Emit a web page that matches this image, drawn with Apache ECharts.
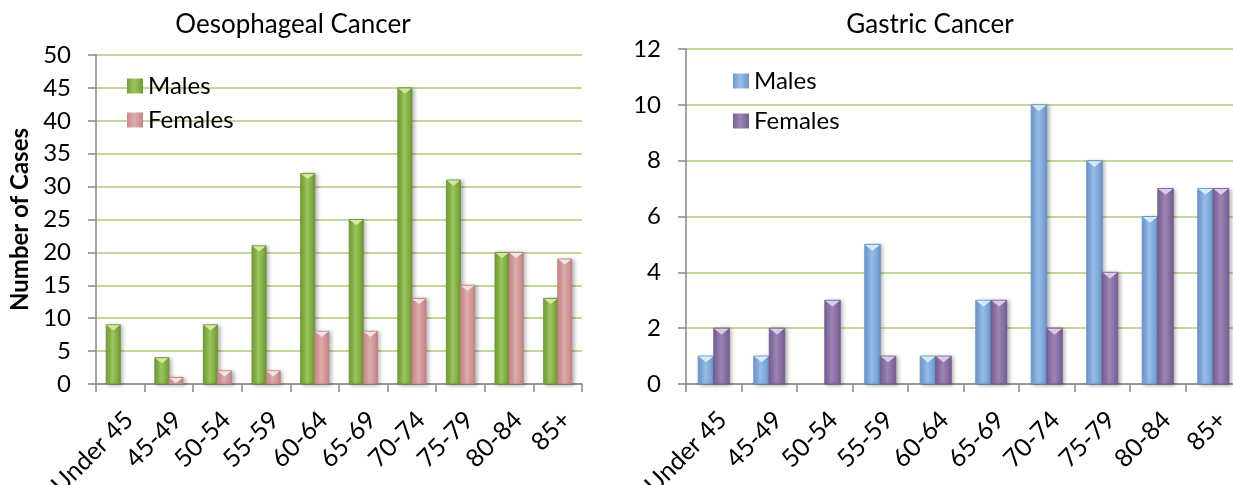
<!DOCTYPE html>
<html>

<head>
    <meta charset="utf-8">
    <script type="text/javascript" src="https://cdn.jsdelivr.net/npm/echarts@6/dist/echarts.min.js"></script>
    <title>Oesophageal and Gastric Cancer</title>
    <style>
        body { margin: 0; background: #fff; }
        .box { position: absolute; top: 0; height: 485px; }
    </style>
</head>

<body>
    <div id="left" class="box" style="left:0;width:616px;"></div>
    <div id="right" class="box" style="left:616px;width:617px;"></div>
    <script type="text/javascript">
    // age groups shared by both charts
    var ageGroups = ['Under 45', '45-49', '50-54', '55-59', '60-64', '65-69', '70-74', '75-79', '80-84', '85+'];

    // oesophageal cancer cases
    var oesMales = [9, 4, 9, 21, 32, 25, 45, 31, 20, 13];
    var oesFemales = [0, 1, 2, 2, 8, 8, 13, 15, 20, 19];

    // gastric cancer cases
    var gasMales = [1, 1, 0, 5, 1, 3, 10, 8, 6, 7];
    var gasFemales = [2, 2, 3, 1, 1, 3, 2, 4, 7, 7];

    var font = 'Lato';

    // horizontal gradient, darker edges and lighter middle like the 3D bars
    function barColor(c) {
        return new echarts.graphic.LinearGradient(0, 0, 1, 0, [
            { offset: 0, color: c.edge },
            { offset: 0.45, color: c.mid },
            { offset: 1, color: c.edge2 }
        ]);
    }

    // bar drawn by hand so it can get the light bevel triangle on top
    function bevelBar(c, gap, slot) {
        return function (params, api) {
            var value = api.value(1);
            if (!value) {
                return null;
            }
            var top = api.coord([api.value(0), value]);
            var base = api.coord([api.value(0), 0]);
            var band = api.size([1, 0])[0];
            var w = band * (1 - gap) / 2;
            var x = top[0] - w + slot * w;
            var h = base[1] - top[1];
            return {
                type: 'group',
                children: [{
                    type: 'rect',
                    shape: { x: x, y: top[1], width: w, height: h },
                    style: {
                        fill: barColor(c),
                        stroke: c.line,
                        lineWidth: 0.8,
                        shadowColor: 'rgba(0,0,0,0.3)',
                        shadowBlur: 4,
                        shadowOffsetX: 2,
                        shadowOffsetY: 1
                    }
                }, {
                    type: 'polygon',
                    shape: {
                        points: [[x + 0.5, top[1] + 0.5], [x + w - 0.5, top[1] + 0.5], [x + w / 2, top[1] + Math.min(w * 0.4, h)]]
                    },
                    style: { fill: c.top }
                }]
            };
        };
    }

    function makeSeries(name, data, c, gap, slot) {
        return {
            name: name,
            type: 'custom',
            renderItem: bevelBar(c, gap, slot),
            data: data.map(function (v, i) { return [i, v]; }),
            encode: { x: 0, y: 1 },
            itemStyle: { color: barColor(c) }
        };
    }

    var green = { edge: '#739e37', mid: '#9dc65e', edge2: '#6f9934', top: '#d3e8a0', line: '#6a9232' };
    var pink = { edge: '#c98c8b', mid: '#dfadac', edge2: '#c48685', top: '#f6e2e2', line: '#b98180' };
    var blue = { edge: '#6e9acf', mid: '#97bde8', edge2: '#6b96cb', top: '#d4ecfa', line: '#6590c4' };
    var purple = { edge: '#7a6198', mid: '#9c85b6', edge2: '#765d94', top: '#ddc9ec', line: '#6f588c' };

    function makeOption(cfg) {
        return {
            animation: false,
            textStyle: { fontFamily: font },
            title: {
                text: cfg.title,
                left: cfg.titleX,
                textAlign: 'center',
                top: 12,
                padding: 0,
                textStyle: { fontFamily: font, fontSize: 26, fontWeight: 'normal', color: '#000' }
            },
            legend: {
                orient: 'vertical',
                left: cfg.legendX,
                top: cfg.legendY,
                padding: 0,
                itemGap: cfg.legendGap,
                itemWidth: 16,
                itemHeight: 15,
                icon: 'rect',
                textStyle: { fontFamily: font, fontSize: 24, lineHeight: 23, color: '#000' },
                data: ['Males', 'Females']
            },
            grid: cfg.grid,
            xAxis: {
                type: 'category',
                data: ageGroups,
                axisLine: { lineStyle: { color: '#868686', width: 1.5 } },
                axisTick: { show: true, length: 8, lineStyle: { color: '#868686', width: 1.5 } },
                axisLabel: {
                    rotate: 45,
                    interval: 0,
                    margin: 23,
                    verticalAlign: 'top',
                    fontFamily: font,
                    fontSize: 25,
                    color: '#000'
                }
            },
            yAxis: {
                type: 'value',
                min: 0,
                max: cfg.max,
                interval: cfg.interval,
                name: cfg.yName,
                nameLocation: 'middle',
                nameGap: 60,
                nameTextStyle: { fontFamily: font, fontSize: 24, fontWeight: 'bold', color: '#000' },
                axisLine: { show: true, lineStyle: { color: '#868686', width: 1.5 } },
                axisTick: { show: true, length: 8, lineStyle: { color: '#868686', width: 1.5 } },
                axisLabel: { margin: 25, fontFamily: font, fontSize: 24, color: '#000' },
                splitLine: { lineStyle: { color: '#c4d79b', width: 2 } }
            },
            series: cfg.series
        };
    }

    var leftChart = echarts.init(document.getElementById('left'));
    leftChart.setOption(makeOption({
        title: 'Oesophageal Cancer',
        titleX: 293,
        legendX: 127,
        legendY: 74,
        legendGap: 10,
        grid: { left: 96, right: 34, top: 55, bottom: 101, outerBoundsMode: 'none' },
        max: 50,
        interval: 5,
        yName: 'Number of Cases',
        series: [
            makeSeries('Males', oesMales, green, 0.42, 0),
            makeSeries('Females', oesFemales, pink, 0.42, 1)
        ]
    }));

    var rightChart = echarts.init(document.getElementById('right'));
    rightChart.setOption(makeOption({
        title: 'Gastric Cancer',
        titleX: 314,
        legendX: 117,
        legendY: 69,
        legendGap: 16,
        grid: { left: 70, right: -8, top: 49, bottom: 101, outerBoundsMode: 'none' },
        max: 12,
        interval: 2,
        yName: '',
        series: [
            makeSeries('Males', gasMales, blue, 0.44, 0),
            makeSeries('Females', gasFemales, purple, 0.44, 1)
        ]
    }));
    </script>
</body>

</html>
